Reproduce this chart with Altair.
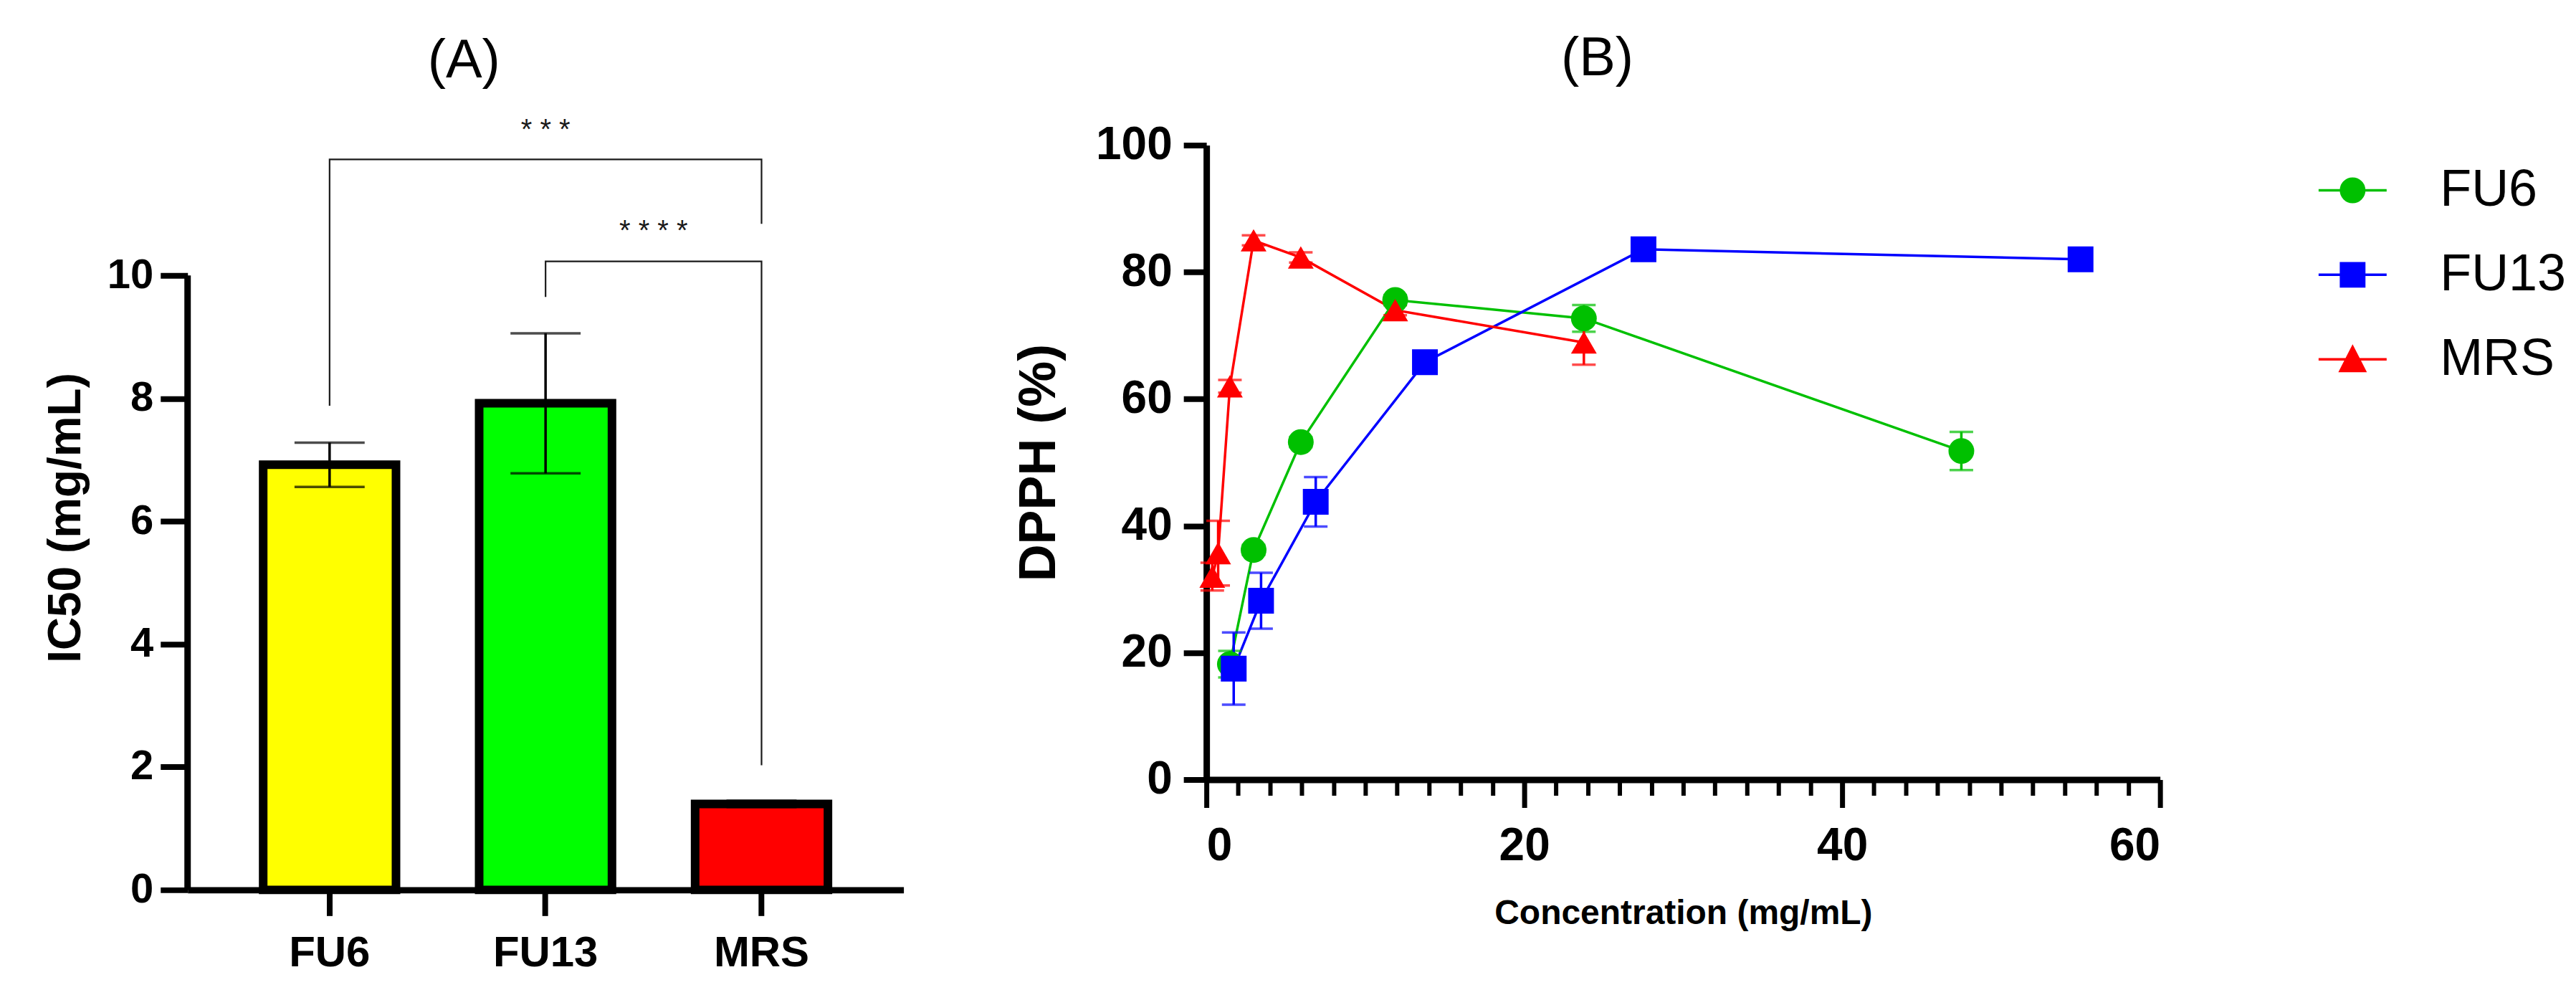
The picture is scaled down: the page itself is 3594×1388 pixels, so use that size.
import altair as alt
import pandas as pd

FONT = "Liberation Sans"

# ---------------- Panel A data ----------------
strains = ["FU6", "FU13", "MRS"]
ic50_mean = [6.92, 7.92, 1.40]
ic50_sd = [0.36, 1.14, 0.05]
bar_fill = ["#FFFF00", "#00FF00", "#FF0000"]

# significance brackets (polyline vertices)
bracket_id = ["p1", "p1", "p1", "p1", "p2", "p2", "p2", "p2"]
bracket_strain = ["FU6", "FU6", "MRS", "MRS", "FU13", "FU13", "MRS", "MRS"]
bracket_y = [7.88, 11.89, 11.89, 10.84, 9.65, 10.23, 10.23, 2.03]
bracket_order = [0, 1, 2, 3, 0, 1, 2, 3]
sig_text = ["* * *", "* * * *"]
sig_strain = ["FU13", "FU13"]
sig_y = [12.36, 10.72]
y_ticks_A = [0, 2, 4, 6, 8, 10]
y_axis_end_A = [0, 10]

# ---------------- Panel B data ----------------
series_names = ["FU6", "FU13", "MRS"]
series_colors = ["#00C000", "#0000FF", "#FF0000"]
series_shapes = ["circle", "square", "triangle-up"]

fu6_conc = [1.48, 2.97, 5.94, 11.88, 23.75, 47.5]
fu6_dpph = [18.2, 36.2, 53.2, 75.6, 72.7, 51.8]
fu6_sd = [2.1, 0.8, 0.8, 0.8, 2.1, 3.0]

fu13_conc = [1.72, 3.44, 6.88, 13.75, 27.5, 55.0]
fu13_dpph = [17.5, 28.2, 43.8, 65.8, 83.6, 82.0]
fu13_sd = [5.7, 4.4, 3.9, 1.0, 0.8, 0.8]

mrs_conc = [0.37, 0.74, 1.48, 2.97, 5.94, 11.88, 23.75]
mrs_dpph = [32.0, 35.7, 62.0, 85.0, 82.3, 74.0, 68.9]
mrs_sd = [2.2, 5.1, 1.0, 0.8, 0.8, 0.8, 3.5]

x_major = [0, 20, 40, 60]
x_minor = [2, 4, 6, 8, 10, 12, 14, 16, 18, 22, 24, 26, 28, 30, 32, 34, 36, 38,
           42, 44, 46, 48, 50, 52, 54, 56, 58]
y_ticks_B = [0, 20, 40, 60, 80, 100]

# ---------------- tables ----------------
dfA = pd.DataFrame({
    "strain": strains,
    "ic50": ic50_mean,
    "lo": [m - s for m, s in zip(ic50_mean, ic50_sd)],
    "hi": [m + s for m, s in zip(ic50_mean, ic50_sd)],
})
dfBr = pd.DataFrame({"bid": bracket_id, "strain": bracket_strain,
                     "y": bracket_y, "ord": bracket_order})
dfSig1 = pd.DataFrame({"label": sig_text[:1], "strain": sig_strain[:1], "y": sig_y[:1]})
dfSig2 = pd.DataFrame({"label": sig_text[1:], "strain": sig_strain[1:], "y": sig_y[1:]})
dfAxisA = pd.DataFrame({"y0": [y_axis_end_A[0]], "y1": [y_axis_end_A[1]]})

rows = []
for name, conc, val, sd in [("FU6", fu6_conc, fu6_dpph, fu6_sd),
                            ("FU13", fu13_conc, fu13_dpph, fu13_sd),
                            ("MRS", mrs_conc, mrs_dpph, mrs_sd)]:
    for c, v, s in zip(conc, val, sd):
        rows.append({"series": name, "conc": c, "dpph": v, "lo": v - s, "hi": v + s})
dfB = pd.DataFrame(rows)

# ---------------- Panel A ----------------
xA = alt.X("strain:N", sort=strains,
           scale=alt.Scale(domain=strains, paddingInner=0.385, paddingOuter=0.35),
           axis=alt.Axis(title=None, labelAngle=0, labelFont=FONT, labelFontSize=60,
                         labelFontWeight="bold", labelColor="black", labelPadding=23,
                         tickSize=36, tickWidth=8, tickColor="black",
                         domainWidth=9, domainColor="black", grid=False))
# plot area extends above 10 to leave room for the significance brackets
yA_scale = alt.Scale(domain=[0, 12.121], nice=False, zero=True)
yA_axis = alt.Axis(values=y_ticks_A, title="IC50 (mg/mL)", titleFont=FONT, titleFontSize=64,
                   titleFontWeight="bold", titleColor="black", titlePadding=25,
                   labelFont=FONT, labelFontSize=58, labelFontWeight="bold",
                   labelColor="black", labelPadding=10, tickSize=38, tickWidth=8,
                   tickColor="black", domain=False, grid=False)

bars = alt.Chart(dfA).mark_bar(stroke="black", strokeWidth=12).encode(
    x=xA,
    y=alt.Y("ic50:Q", scale=yA_scale, axis=yA_axis),
    color=alt.Color("strain:N", scale=alt.Scale(domain=strains, range=bar_fill), legend=None),
)
errA = alt.Chart(dfA).mark_errorbar(ticks=True, size=98, thickness=3.5, color="black").encode(
    x=xA,
    y=alt.Y("lo:Q", scale=yA_scale, axis=yA_axis),
    y2=alt.Y2("hi:Q"),
)
axis_line_A = alt.Chart(dfAxisA).mark_rule(color="black", strokeWidth=9).encode(
    x=alt.value(0),
    y=alt.Y("y0:Q", scale=yA_scale, axis=yA_axis),
    y2=alt.Y2("y1:Q"),
)
brackets = alt.Chart(dfBr).mark_line(color="#1a1a1a", strokeWidth=2.2).encode(
    x=xA,
    y=alt.Y("y:Q", scale=yA_scale, axis=yA_axis),
    detail="bid:N",
    order="ord:Q",
)
stars1 = alt.Chart(dfSig1).mark_text(font=FONT, fontSize=40, color="#1a1a1a").encode(
    x=xA, y=alt.Y("y:Q", scale=yA_scale, axis=yA_axis), text="label:N")
stars2 = alt.Chart(dfSig2).mark_text(font=FONT, fontSize=40, color="#1a1a1a", dx=150.8).encode(
    x=xA, y=alt.Y("y:Q", scale=yA_scale, axis=yA_axis), text="label:N")

panelA = alt.layer(bars, errA, axis_line_A, brackets, stars1, stars2).properties(
    width=1000, height=1040,
    title=alt.TitleParams("(A)", font=FONT, fontSize=76, fontWeight="normal", color="black",
                          anchor="middle", frame="group", dx=-114, offset=38),
)

# ---------------- Panel B ----------------
xB_scale = alt.Scale(domain=[0, 60], nice=False, zero=True)
xB_major = alt.Axis(values=x_major, orient="bottom", format="d",
                    title="Concentration (mg/mL)", titleFont=FONT, titleFontSize=48,
                    titleFontWeight="bold", titleColor="black", titlePadding=38,
                    labelFont=FONT, labelFontSize=64, labelFontWeight="bold",
                    labelColor="black", labelPadding=22, tickSize=39, tickWidth=7,
                    tickColor="black", domainWidth=9, domainColor="black", grid=False)
xB_minor = alt.Axis(values=x_minor, orient="bottom", labels=False, title=None,
                    domain=False, tickSize=22, tickWidth=6, tickColor="black", grid=False)
yB_scale = alt.Scale(domain=[0, 100], nice=False)
yB_axis = alt.Axis(values=y_ticks_B, title="DPPH (%)", titleFont=FONT, titleFontSize=72,
                   titleFontWeight="bold", titleColor="black", titlePadding=42,
                   labelFont=FONT, labelFontSize=64, labelFontWeight="bold",
                   labelColor="black", labelPadding=16, tickSize=32, tickWidth=8,
                   tickColor="black", domainWidth=9, domainColor="black", grid=False)

# legend symbols: line with marker (custom paths)
legend_paths = [
    "M-2.64,0L2.64,0M-0.9,0A0.9,0.9,0,1,1,0.9,0A0.9,0.9,0,1,1,-0.9,0Z",
    "M-2.64,0L2.64,0M-0.9,-0.9L0.9,-0.9L0.9,0.9L-0.9,0.9Z",
    "M-2.64,0L2.64,0M0,-0.95L0.95,0.9L-0.95,0.9Z",
]
legend_B = alt.Legend(
    title=None, orient="none", legendX=1565, legendY=27, padding=0,
    symbolSize=1296, symbolStrokeWidth=3.5, symbolOpacity=1,
    labelFont=FONT, labelFontSize=72, labelColor="black", labelOffset=86, labelLimit=0,
    rowPadding=46,
)

lines = alt.Chart().mark_line(strokeWidth=3.5).encode(
    x=alt.X("conc:Q", scale=xB_scale, axis=xB_major),
    y=alt.Y("dpph:Q", scale=yB_scale, axis=yB_axis),
    color=alt.Color("series:N", scale=alt.Scale(domain=series_names, range=series_colors),
                    legend=None),
)
errB = alt.Chart().mark_errorbar(ticks=True, size=33, thickness=3.5).encode(
    x=alt.X("conc:Q", scale=xB_scale, axis=xB_minor),
    y=alt.Y("lo:Q", scale=yB_scale, axis=yB_axis),
    y2=alt.Y2("hi:Q"),
    color=alt.Color("series:N", scale=alt.Scale(domain=series_names, range=series_colors),
                    legend=None),
)
points = alt.Chart().mark_point(filled=True, size=1296, opacity=1).encode(
    x=alt.X("conc:Q", scale=xB_scale, axis=None),
    y=alt.Y("dpph:Q", scale=yB_scale, axis=yB_axis),
    fill=alt.Fill("series:N", scale=alt.Scale(domain=series_names, range=series_colors),
                  legend=None),
    shape=alt.Shape("series:N", scale=alt.Scale(domain=series_names, range=series_shapes),
                    legend=None),
)
# legend-only layer (no marks drawn: its rows are filtered out)
legend_layer = alt.Chart().transform_filter("false").mark_point(
    filled=True, size=1296, strokeWidth=3.5, opacity=1).encode(
    x=alt.X("conc:Q", scale=xB_scale, axis=None),
    y=alt.Y("dpph:Q", scale=yB_scale, axis=yB_axis),
    fill=alt.Fill("series:N", scale=alt.Scale(domain=series_names, range=series_colors),
                  legend=legend_B),
    stroke=alt.Stroke("series:N", scale=alt.Scale(domain=series_names, range=series_colors),
                      legend=legend_B),
    shape=alt.Shape("series:N", scale=alt.Scale(domain=series_names, range=legend_paths),
                    legend=legend_B),
)

panelB = alt.layer(lines, errB, points, legend_layer, data=dfB).resolve_axis(
    x="independent"
).resolve_scale(
    shape="independent", fill="independent", stroke="independent"
).properties(
    width=1332, height=886,
    title=alt.TitleParams("(B)", font=FONT, fontSize=76, fontWeight="normal", color="black",
                          anchor="middle", frame="group", dx=-120, offset=50),
)

chart = alt.hconcat(panelA, panelB, spacing=153).resolve_scale(
    color="independent", fill="independent", shape="independent", stroke="independent"
).properties(
    padding={"left": 52, "top": 35, "right": 5, "bottom": 5}
).configure_view(stroke=None)

chart.save("out.html", embed_options={"renderer": "svg", "actions": False})
